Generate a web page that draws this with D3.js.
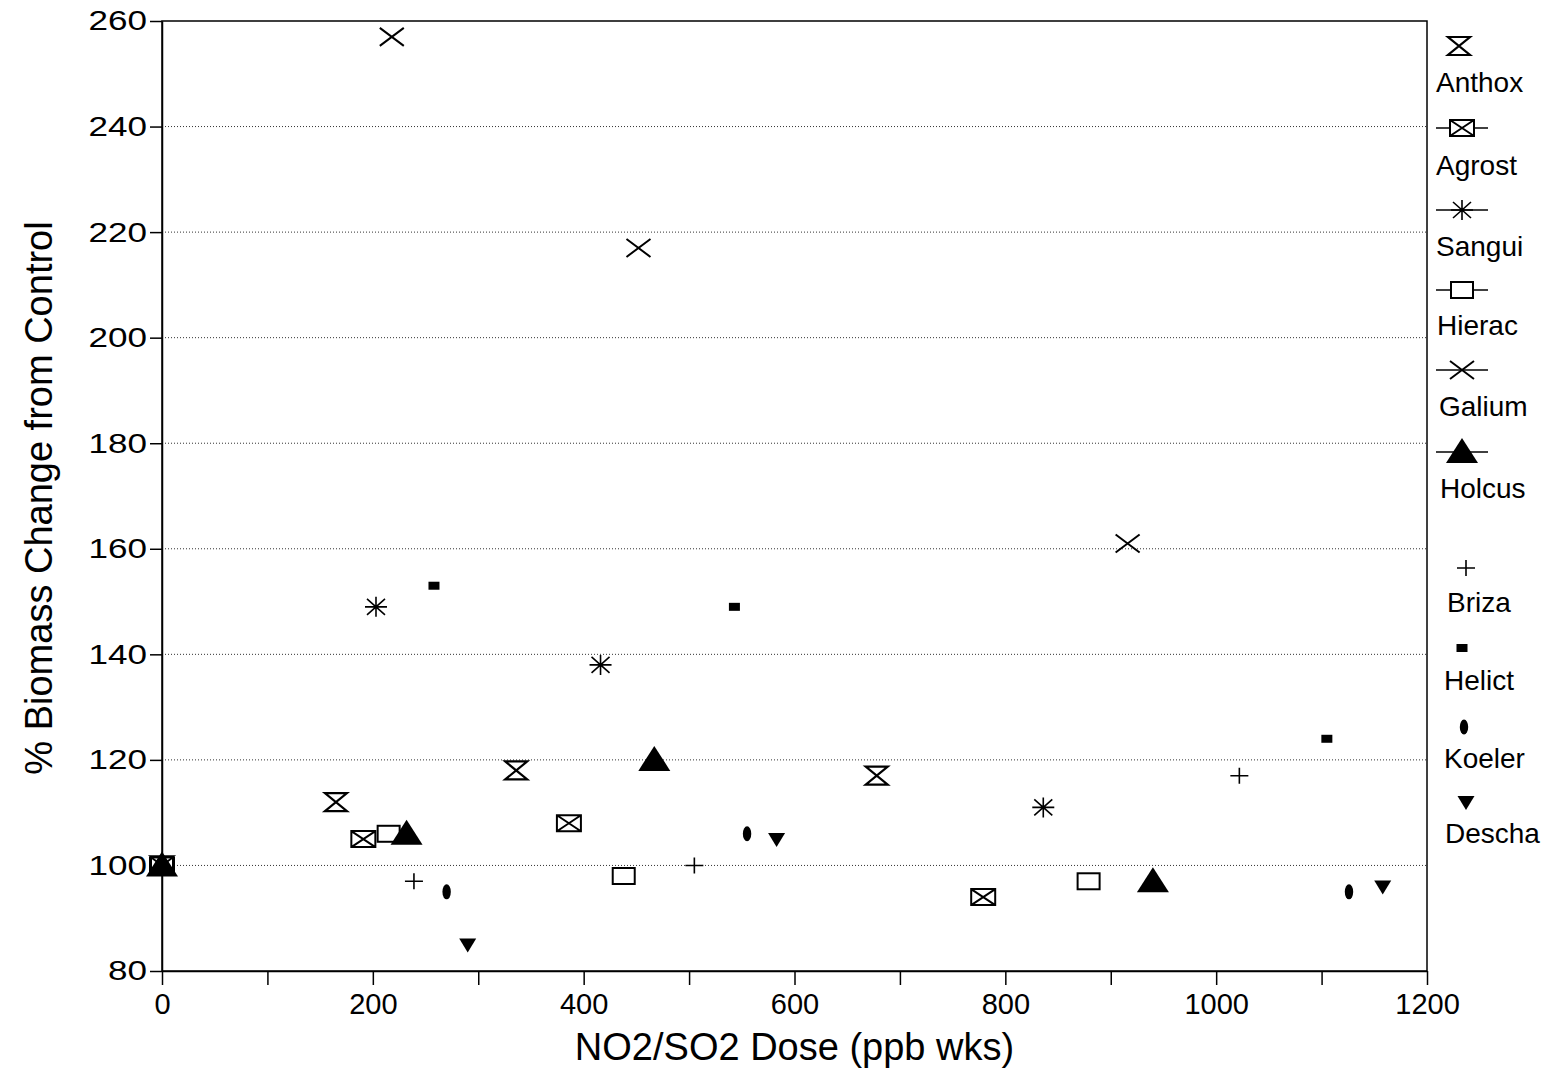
<!DOCTYPE html>
<meta charset="utf-8">
<style>
body { margin: 0; background: #fff; }
svg { font-family: "Liberation Sans", Arial, sans-serif; }
.grid line { stroke: #333; stroke-width: 1; stroke-dasharray: 1,2; }
.axis path, .axis line { stroke: #000; stroke-width: 1.5; fill: none; }
.axis text { fill: #000; }
</style>
<body>
<script src="https://d3js.org/d3.v7.min.js"></script>
<script>

// values (dose in ppb wks, % of control)
var species = ["Anthox", "Agrost", "Sangui", "Hierac", "Galium", "Holcus", "Briza", "Helict", "Koeler", "Descha"];

var anthoxDose = [0, 165, 336, 678];
var anthoxPct  = [100, 112, 118, 117];
var agrostDose = [0, 191, 386, 779];
var agrostPct  = [100, 105, 108, 94];
var sanguiDose = [0, 203, 416, 836];
var sanguiPct  = [100, 149, 138, 111];
var hieracDose = [0, 215, 438, 879];
var hieracPct  = [100, 106, 98, 97];
var galiumDose = [0, 218, 452, 916];
var galiumPct  = [100, 257, 217, 161];
var holcusDose = [0, 232, 467, 940];
var holcusPct  = [100, 106, 120, 97];
var brizaDose  = [239, 505, 1022];
var brizaPct   = [97, 100, 117];
var helictDose = [258, 543, 1105];
var helictPct  = [153, 149, 124];
var koelerDose = [270, 555, 1126];
var koelerPct  = [95, 106, 95];
var deschaDose = [290, 583, 1158];
var deschaPct  = [85, 105, 96];

var yTicks = [80, 100, 120, 140, 160, 180, 200, 220, 240, 260];
var xTicks = [0, 200, 400, 600, 800, 1000, 1200];
var xMinorTicks = [100, 300, 500, 700, 900, 1100];

var doses = [anthoxDose, agrostDose, sanguiDose, hieracDose, galiumDose, holcusDose, brizaDose, helictDose, koelerDose, deschaDose];
var pcts  = [anthoxPct, agrostPct, sanguiPct, hieracPct, galiumPct, holcusPct, brizaPct, helictPct, koelerPct, deschaPct];

var width = 1551, height = 1072;

var x = d3.scaleLinear().domain([0, 1200]).range([162, 1427]);
var y = d3.scaleLinear().domain([80, 260]).range([971, 21]);

var svg = d3.select("body").append("svg")
    .attr("width", width)
    .attr("height", height);

// dotted horizontal grid
svg.append("g")
    .attr("class", "grid")
  .selectAll("line")
    .data(yTicks.filter(function(d) { return d > 80 && d < 260; }))
  .enter().append("line")
    .attr("x1", x(0))
    .attr("x2", x(1200))
    .attr("y1", function(d) { return y(d); })
    .attr("y2", function(d) { return y(d); });

// frame
svg.append("rect")
    .attr("x", x(0))
    .attr("y", y(260))
    .attr("width", x(1200) - x(0))
    .attr("height", y(80) - y(260))
    .attr("fill", "none")
    .attr("stroke", "#000")
    .attr("stroke-width", 1.5);

// y axis
var yAxis = svg.append("g")
    .attr("class", "axis")
    .attr("transform", "translate(" + x(0) + ",0)")
    .call(d3.axisLeft(y).tickValues(yTicks).tickSize(12).tickSizeOuter(0).tickPadding(3));
yAxis.selectAll("text")
    .style("font-size", "28px")
    .attr("textLength", function(d) { return String(d).length * 19.5; })
    .attr("lengthAdjust", "spacingAndGlyphs");

// x axis, minor ticks then labelled ticks
svg.append("g")
    .attr("class", "axis")
    .attr("transform", "translate(0," + y(80) + ")")
    .call(d3.axisBottom(x).tickValues(xMinorTicks).tickSize(14).tickSizeOuter(0).tickFormat(""));
var xAxis = svg.append("g")
    .attr("class", "axis")
    .attr("transform", "translate(0," + y(80) + ")")
    .call(d3.axisBottom(x).tickValues(xTicks).tickSize(14).tickSizeOuter(0).tickPadding(8).tickFormat(d3.format("d")));
xAxis.selectAll("text").style("font-size", "29px");
xAxis.select(".domain").remove();

// axis titles
svg.append("text")
    .attr("x", (x(0) + x(1200)) / 2)
    .attr("y", 1060)
    .attr("text-anchor", "middle")
    .style("font-size", "38px")
    .text("NO2/SO2 Dose (ppb wks)");

svg.append("text")
    .attr("transform", "translate(52," + 498 + ") rotate(-90)")
    .attr("text-anchor", "middle")
    .style("font-size", "38px")
    .text("% Biomass Change from Control");

// marker glyphs
function drawMarker(g, name) {
  switch (name) {
    case "Anthox":
      g.append("path").attr("d", "M-11,-9H11L-11,9H11Z")
        .attr("fill", "none").attr("stroke", "#000").attr("stroke-width", 2.2);
      break;
    case "Agrost":
      g.append("path").attr("d", "M-12,-8H12V8H-12ZM-12,-8L12,8M12,-8L-12,8")
        .attr("fill", "#fff").attr("stroke", "#000").attr("stroke-width", 2);
      break;
    case "Sangui":
      g.append("path").attr("d", "M-11,0H11M-9,-8L9,8M9,-8L-9,8M0,-10V10")
        .attr("fill", "none").attr("stroke", "#000").attr("stroke-width", 1.6);
      break;
    case "Hierac":
      g.append("rect").attr("x", -11).attr("y", -8).attr("width", 22).attr("height", 16)
        .attr("fill", "#fff").attr("stroke", "#000").attr("stroke-width", 2);
      break;
    case "Galium":
      g.append("path").attr("d", "M-12,-9L12,9M12,-9L-12,9")
        .attr("fill", "none").attr("stroke", "#000").attr("stroke-width", 2);
      break;
    case "Holcus":
      g.append("path").attr("d", "M0,-14L16,11H-16Z").attr("fill", "#000");
      break;
    case "Briza":
      g.append("path").attr("d", "M-9,0H9M0,-8V8")
        .attr("fill", "none").attr("stroke", "#000").attr("stroke-width", 1.6);
      break;
    case "Helict":
      g.append("rect").attr("x", -5.5).attr("y", -4).attr("width", 11).attr("height", 8).attr("fill", "#000");
      break;
    case "Koeler":
      g.append("ellipse").attr("rx", 4.2).attr("ry", 7.5).attr("fill", "#000");
      break;
    case "Descha":
      g.append("path").attr("d", "M-8.5,-6H8.5L0,8Z").attr("fill", "#000");
      break;
  }
}

// points, Holcus drawn last so its triangles sit on top like in the scan
var order = [0, 1, 2, 3, 4, 6, 7, 8, 9, 5];
order.forEach(function(i) {
  var pts = doses[i].map(function(d, j) { return {dose: d, pct: pcts[i][j]}; });
  svg.append("g").selectAll("g")
      .data(pts)
    .enter().append("g")
      .attr("transform", function(d) { return "translate(" + x(d.dose) + "," + y(d.pct) + ")"; })
      .each(function() { drawMarker(d3.select(this), species[i]); });
});

// legend in the right margin
var legMarkerY = [46, 128, 210, 290, 370, 452, 568, 648, 727, 802];
var legMarkerX = [1459, 1462, 1462, 1462, 1462, 1462, 1466, 1462, 1464, 1466];
var legLabelY  = [92, 175, 256, 335, 416, 498, 612, 690, 768, 843];
var legLabelX  = [1436, 1436, 1436, 1437, 1439, 1440, 1447, 1444, 1444, 1445];

species.forEach(function(name, i) {
  if (i >= 1 && i <= 5) {
    svg.append("line")
      .attr("x1", 1436).attr("x2", 1488)
      .attr("y1", legMarkerY[i]).attr("y2", legMarkerY[i])
      .attr("stroke", "#000").attr("stroke-width", 1.5);
  }
  var g = svg.append("g").attr("transform", "translate(" + legMarkerX[i] + "," + legMarkerY[i] + ")");
  drawMarker(g, name);
  svg.append("text")
      .attr("x", legLabelX[i])
      .attr("y", legLabelY[i])
      .style("font-size", "28px")
      .text(name);
});

</script>
</body>
